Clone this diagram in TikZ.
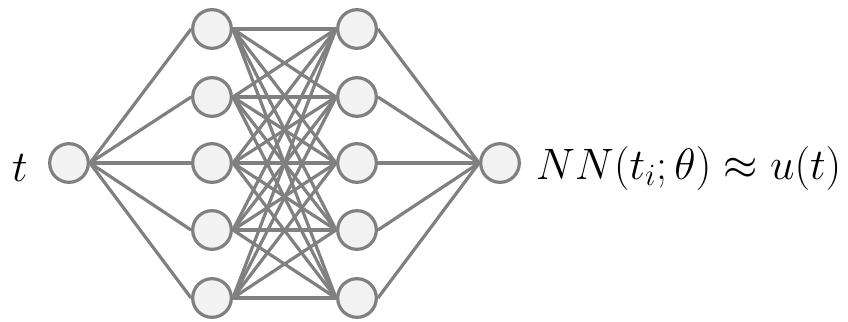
\documentclass[tikz,border=0pt]{standalone}
\usepackage{fix-cm}
\usepackage{amsmath,amssymb}
\usepackage{xcolor}
\usepackage{tikz}
\usetikzlibrary{positioning}

\definecolor{edgegray}{HTML}{808080}
\definecolor{cellfill}{HTML}{F2F2F2}

\begin{document}
\begin{tikzpicture}[x=0.75pt,y=-0.75pt,
  neuron/.style={circle,draw=edgegray,fill=cellfill,line width=2.4pt,inner sep=0pt,minimum size=29pt},
  wire/.style={draw=edgegray,line width=2.4pt},
  lbl/.style={font=\fontsize{33}{40}\selectfont,inner sep=0pt}]
\useasboundingbox (0,0) rectangle (848,321);
% input and output
\node[neuron] (in) at (69,163) {};
\node[neuron] (out) at (500,163) {};
% hidden layers
\foreach \k/\y in {1/29,2/97,3/163,4/230,5/298}{
  \node[neuron] (a\k) at (212,\y) {};
  \node[neuron] (b\k) at (357,\y) {};
}
% connections
\foreach \k in {1,...,5}{
  \draw[wire] (in.east) -- (a\k.west);
  \draw[wire] (b\k.east) -- (out.west);
  \foreach \j in {1,...,5}
    \draw[wire] (a\k.east) -- (b\j.west);
}
% labels
\node[lbl,left=15pt of in,yshift=-4pt] (tin) {$t$};
\node[lbl,right=11pt of out,yshift=-4pt] (tout) {$NN(t_i;\theta) \approx u(t)$};
\end{tikzpicture}
\end{document}
